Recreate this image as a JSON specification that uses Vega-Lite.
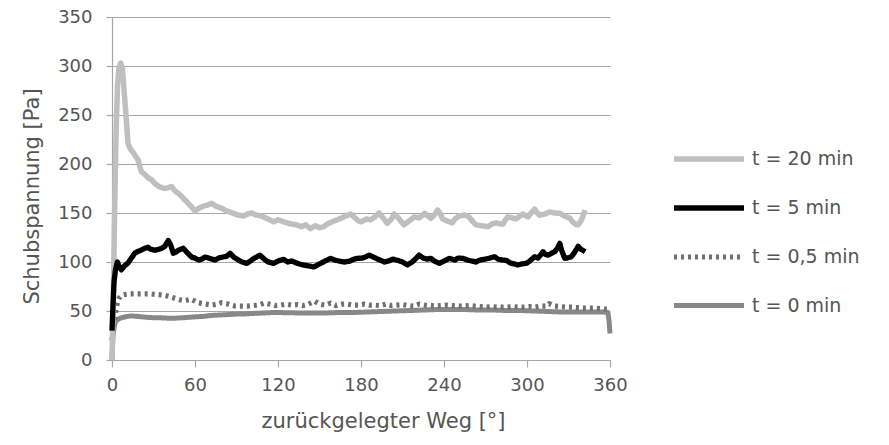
{
  "$schema": "https://vega.github.io/schema/vega-lite/v6.json",
  "width": 498,
  "height": 343,
  "autosize": {"type": "none"},
  "padding": {"left": 112, "top": 17, "right": 279, "bottom": 85},
  "background": "white",
  "config": {
    "font": "DejaVu Sans",
    "view": {"stroke": null},
    "axis": {"labelFont": "DejaVu Sans", "titleFont": "DejaVu Sans", "labelColor": "#555555", "titleColor": "#555555", "titleFontWeight": "normal", "labelFontSize": 18, "titleFontSize": 21, "domainColor": "#a6a6a6", "tickColor": "#a6a6a6", "gridColor": "#a6a6a6", "gridWidth": 1.2, "domainWidth": 1.2, "tickWidth": 1.2, "labelFlush": false},
    "legend": {"labelFont": "DejaVu Sans", "labelColor": "#555555", "labelFontSize": 19}
  },
  "datasets": {
    "curves": [
      {"t": "t = 0 min", "deg": 0, "val": 0}, {"t": "t = 0 min", "deg": 0.7, "val": 24}, {"t": "t = 0 min", "deg": 1.5, "val": 33}, {"t": "t = 0 min", "deg": 2.4, "val": 39}, {"t": "t = 0 min", "deg": 4, "val": 41}, {"t": "t = 0 min", "deg": 5.6, "val": 42.5}, {"t": "t = 0 min", "deg": 8, "val": 43.5}, {"t": "t = 0 min", "deg": 11, "val": 44.5}, {"t": "t = 0 min", "deg": 14, "val": 45}, {"t": "t = 0 min", "deg": 18, "val": 44.5}, {"t": "t = 0 min", "deg": 22, "val": 44}, {"t": "t = 0 min", "deg": 26, "val": 43.5}, {"t": "t = 0 min", "deg": 31, "val": 43}, {"t": "t = 0 min", "deg": 36, "val": 43}, {"t": "t = 0 min", "deg": 43, "val": 42.5}, {"t": "t = 0 min", "deg": 50, "val": 43}, {"t": "t = 0 min", "deg": 55, "val": 43.5}, {"t": "t = 0 min", "deg": 60, "val": 44}, {"t": "t = 0 min", "deg": 66, "val": 44.5}, {"t": "t = 0 min", "deg": 72, "val": 45.5}, {"t": "t = 0 min", "deg": 79, "val": 46}, {"t": "t = 0 min", "deg": 86, "val": 46.5}, {"t": "t = 0 min", "deg": 92, "val": 47}, {"t": "t = 0 min", "deg": 96, "val": 47}, {"t": "t = 0 min", "deg": 102, "val": 47.5}, {"t": "t = 0 min", "deg": 110, "val": 48}, {"t": "t = 0 min", "deg": 117, "val": 48.5}, {"t": "t = 0 min", "deg": 125, "val": 48.3}, {"t": "t = 0 min", "deg": 135, "val": 48}, {"t": "t = 0 min", "deg": 145, "val": 48}, {"t": "t = 0 min", "deg": 155, "val": 48}, {"t": "t = 0 min", "deg": 165, "val": 48.5}, {"t": "t = 0 min", "deg": 175, "val": 48.5}, {"t": "t = 0 min", "deg": 185, "val": 49}, {"t": "t = 0 min", "deg": 195, "val": 49.5}, {"t": "t = 0 min", "deg": 205, "val": 50}, {"t": "t = 0 min", "deg": 215, "val": 50.5}, {"t": "t = 0 min", "deg": 225, "val": 51}, {"t": "t = 0 min", "deg": 235, "val": 51.5}, {"t": "t = 0 min", "deg": 245, "val": 51.5}, {"t": "t = 0 min", "deg": 255, "val": 51.5}, {"t": "t = 0 min", "deg": 265, "val": 51}, {"t": "t = 0 min", "deg": 275, "val": 51}, {"t": "t = 0 min", "deg": 285, "val": 50.5}, {"t": "t = 0 min", "deg": 295, "val": 50.5}, {"t": "t = 0 min", "deg": 305, "val": 50}, {"t": "t = 0 min", "deg": 315, "val": 49.5}, {"t": "t = 0 min", "deg": 325, "val": 49}, {"t": "t = 0 min", "deg": 335, "val": 49}, {"t": "t = 0 min", "deg": 345, "val": 49}, {"t": "t = 0 min", "deg": 355, "val": 49}, {"t": "t = 0 min", "deg": 358.5, "val": 48.5}, {"t": "t = 0 min", "deg": 359.3, "val": 40}, {"t": "t = 0 min", "deg": 360, "val": 27},

      {"t": "t = 0,5 min", "deg": 0, "val": 20}, {"t": "t = 0,5 min", "deg": 1, "val": 35}, {"t": "t = 0,5 min", "deg": 2, "val": 44}, {"t": "t = 0,5 min", "deg": 3, "val": 52}, {"t": "t = 0,5 min", "deg": 4, "val": 59.5}, {"t": "t = 0,5 min", "deg": 5, "val": 63}, {"t": "t = 0,5 min", "deg": 7, "val": 66}, {"t": "t = 0,5 min", "deg": 10, "val": 67}, {"t": "t = 0,5 min", "deg": 13, "val": 67.5}, {"t": "t = 0,5 min", "deg": 16, "val": 67.5}, {"t": "t = 0,5 min", "deg": 20, "val": 67.5}, {"t": "t = 0,5 min", "deg": 24, "val": 67.5}, {"t": "t = 0,5 min", "deg": 28, "val": 67.5}, {"t": "t = 0,5 min", "deg": 31, "val": 67}, {"t": "t = 0,5 min", "deg": 35, "val": 66.5}, {"t": "t = 0,5 min", "deg": 38, "val": 66}, {"t": "t = 0,5 min", "deg": 42, "val": 64.5}, {"t": "t = 0,5 min", "deg": 45.5, "val": 63}, {"t": "t = 0,5 min", "deg": 49, "val": 61.5}, {"t": "t = 0,5 min", "deg": 52.8, "val": 60.5}, {"t": "t = 0,5 min", "deg": 57, "val": 62}, {"t": "t = 0,5 min", "deg": 60, "val": 60}, {"t": "t = 0,5 min", "deg": 62, "val": 58.5}, {"t": "t = 0,5 min", "deg": 65, "val": 57.8}, {"t": "t = 0,5 min", "deg": 68, "val": 57}, {"t": "t = 0,5 min", "deg": 72, "val": 56}, {"t": "t = 0,5 min", "deg": 76, "val": 57}, {"t": "t = 0,5 min", "deg": 79, "val": 58.5}, {"t": "t = 0,5 min", "deg": 83, "val": 57.5}, {"t": "t = 0,5 min", "deg": 86, "val": 56}, {"t": "t = 0,5 min", "deg": 89, "val": 55}, {"t": "t = 0,5 min", "deg": 93, "val": 55}, {"t": "t = 0,5 min", "deg": 98, "val": 55}, {"t": "t = 0,5 min", "deg": 102, "val": 55.5}, {"t": "t = 0,5 min", "deg": 106, "val": 56}, {"t": "t = 0,5 min", "deg": 110, "val": 58}, {"t": "t = 0,5 min", "deg": 114, "val": 57}, {"t": "t = 0,5 min", "deg": 118, "val": 55.5}, {"t": "t = 0,5 min", "deg": 122, "val": 56}, {"t": "t = 0,5 min", "deg": 126, "val": 57}, {"t": "t = 0,5 min", "deg": 130, "val": 56}, {"t": "t = 0,5 min", "deg": 134, "val": 56.5}, {"t": "t = 0,5 min", "deg": 138, "val": 55.5}, {"t": "t = 0,5 min", "deg": 142, "val": 57}, {"t": "t = 0,5 min", "deg": 146.5, "val": 60}, {"t": "t = 0,5 min", "deg": 150, "val": 57}, {"t": "t = 0,5 min", "deg": 154, "val": 56}, {"t": "t = 0,5 min", "deg": 158, "val": 58}, {"t": "t = 0,5 min", "deg": 162, "val": 55.5}, {"t": "t = 0,5 min", "deg": 166, "val": 57}, {"t": "t = 0,5 min", "deg": 170, "val": 57}, {"t": "t = 0,5 min", "deg": 174, "val": 56}, {"t": "t = 0,5 min", "deg": 178, "val": 56}, {"t": "t = 0,5 min", "deg": 182, "val": 57}, {"t": "t = 0,5 min", "deg": 186, "val": 56}, {"t": "t = 0,5 min", "deg": 190, "val": 56}, {"t": "t = 0,5 min", "deg": 194, "val": 55.5}, {"t": "t = 0,5 min", "deg": 198, "val": 57}, {"t": "t = 0,5 min", "deg": 202, "val": 55.5}, {"t": "t = 0,5 min", "deg": 206, "val": 56}, {"t": "t = 0,5 min", "deg": 210, "val": 56.5}, {"t": "t = 0,5 min", "deg": 214, "val": 55.5}, {"t": "t = 0,5 min", "deg": 218, "val": 55}, {"t": "t = 0,5 min", "deg": 222, "val": 57}, {"t": "t = 0,5 min", "deg": 226, "val": 56}, {"t": "t = 0,5 min", "deg": 230, "val": 55.5}, {"t": "t = 0,5 min", "deg": 234, "val": 55}, {"t": "t = 0,5 min", "deg": 238, "val": 55.5}, {"t": "t = 0,5 min", "deg": 242, "val": 56}, {"t": "t = 0,5 min", "deg": 246, "val": 55.5}, {"t": "t = 0,5 min", "deg": 250, "val": 55}, {"t": "t = 0,5 min", "deg": 254, "val": 55}, {"t": "t = 0,5 min", "deg": 258, "val": 55.5}, {"t": "t = 0,5 min", "deg": 262, "val": 55}, {"t": "t = 0,5 min", "deg": 266, "val": 54.5}, {"t": "t = 0,5 min", "deg": 270, "val": 54}, {"t": "t = 0,5 min", "deg": 274, "val": 54.5}, {"t": "t = 0,5 min", "deg": 278, "val": 54}, {"t": "t = 0,5 min", "deg": 282, "val": 54}, {"t": "t = 0,5 min", "deg": 286, "val": 54}, {"t": "t = 0,5 min", "deg": 290, "val": 54.5}, {"t": "t = 0,5 min", "deg": 294, "val": 54}, {"t": "t = 0,5 min", "deg": 298, "val": 54}, {"t": "t = 0,5 min", "deg": 302, "val": 54.5}, {"t": "t = 0,5 min", "deg": 306, "val": 54}, {"t": "t = 0,5 min", "deg": 310, "val": 55}, {"t": "t = 0,5 min", "deg": 314, "val": 55}, {"t": "t = 0,5 min", "deg": 316, "val": 57.5}, {"t": "t = 0,5 min", "deg": 320, "val": 55}, {"t": "t = 0,5 min", "deg": 324, "val": 54.5}, {"t": "t = 0,5 min", "deg": 328, "val": 54}, {"t": "t = 0,5 min", "deg": 332, "val": 54}, {"t": "t = 0,5 min", "deg": 336, "val": 53.5}, {"t": "t = 0,5 min", "deg": 340, "val": 53}, {"t": "t = 0,5 min", "deg": 344, "val": 53}, {"t": "t = 0,5 min", "deg": 348, "val": 53}, {"t": "t = 0,5 min", "deg": 352, "val": 52.5}, {"t": "t = 0,5 min", "deg": 356, "val": 52}, {"t": "t = 0,5 min", "deg": 358.8, "val": 52},

      {"t": "t = 20 min", "deg": 0, "val": 0}, {"t": "t = 20 min", "deg": 1, "val": 70}, {"t": "t = 20 min", "deg": 2, "val": 160}, {"t": "t = 20 min", "deg": 3, "val": 235}, {"t": "t = 20 min", "deg": 4, "val": 280}, {"t": "t = 20 min", "deg": 5, "val": 298}, {"t": "t = 20 min", "deg": 6.3, "val": 303}, {"t": "t = 20 min", "deg": 7.5, "val": 298}, {"t": "t = 20 min", "deg": 9, "val": 270}, {"t": "t = 20 min", "deg": 9.7, "val": 258}, {"t": "t = 20 min", "deg": 11, "val": 232}, {"t": "t = 20 min", "deg": 11.6, "val": 221}, {"t": "t = 20 min", "deg": 13, "val": 216}, {"t": "t = 20 min", "deg": 15.2, "val": 212}, {"t": "t = 20 min", "deg": 17, "val": 208}, {"t": "t = 20 min", "deg": 18.9, "val": 204}, {"t": "t = 20 min", "deg": 20, "val": 198}, {"t": "t = 20 min", "deg": 21.3, "val": 192}, {"t": "t = 20 min", "deg": 24, "val": 189}, {"t": "t = 20 min", "deg": 26, "val": 186}, {"t": "t = 20 min", "deg": 28.6, "val": 184}, {"t": "t = 20 min", "deg": 31, "val": 180}, {"t": "t = 20 min", "deg": 34, "val": 177}, {"t": "t = 20 min", "deg": 36, "val": 176}, {"t": "t = 20 min", "deg": 38.2, "val": 175}, {"t": "t = 20 min", "deg": 41, "val": 176}, {"t": "t = 20 min", "deg": 43, "val": 177}, {"t": "t = 20 min", "deg": 46, "val": 172}, {"t": "t = 20 min", "deg": 48, "val": 170}, {"t": "t = 20 min", "deg": 50.3, "val": 167}, {"t": "t = 20 min", "deg": 53, "val": 163}, {"t": "t = 20 min", "deg": 55, "val": 160}, {"t": "t = 20 min", "deg": 57, "val": 157}, {"t": "t = 20 min", "deg": 60, "val": 152}, {"t": "t = 20 min", "deg": 63, "val": 155}, {"t": "t = 20 min", "deg": 66, "val": 157}, {"t": "t = 20 min", "deg": 69, "val": 158}, {"t": "t = 20 min", "deg": 72, "val": 160}, {"t": "t = 20 min", "deg": 75, "val": 157}, {"t": "t = 20 min", "deg": 79, "val": 155}, {"t": "t = 20 min", "deg": 83, "val": 152}, {"t": "t = 20 min", "deg": 87, "val": 150}, {"t": "t = 20 min", "deg": 91, "val": 148}, {"t": "t = 20 min", "deg": 95, "val": 147}, {"t": "t = 20 min", "deg": 98, "val": 149}, {"t": "t = 20 min", "deg": 101, "val": 150}, {"t": "t = 20 min", "deg": 104, "val": 148}, {"t": "t = 20 min", "deg": 108, "val": 147}, {"t": "t = 20 min", "deg": 111, "val": 145}, {"t": "t = 20 min", "deg": 114, "val": 143}, {"t": "t = 20 min", "deg": 117, "val": 141}, {"t": "t = 20 min", "deg": 120, "val": 143}, {"t": "t = 20 min", "deg": 124, "val": 141}, {"t": "t = 20 min", "deg": 129, "val": 139}, {"t": "t = 20 min", "deg": 133, "val": 138}, {"t": "t = 20 min", "deg": 137, "val": 136}, {"t": "t = 20 min", "deg": 140, "val": 138}, {"t": "t = 20 min", "deg": 143.5, "val": 134}, {"t": "t = 20 min", "deg": 147, "val": 137}, {"t": "t = 20 min", "deg": 150, "val": 135}, {"t": "t = 20 min", "deg": 153, "val": 136}, {"t": "t = 20 min", "deg": 156, "val": 139}, {"t": "t = 20 min", "deg": 159, "val": 141}, {"t": "t = 20 min", "deg": 162.8, "val": 143}, {"t": "t = 20 min", "deg": 166, "val": 145}, {"t": "t = 20 min", "deg": 169, "val": 147}, {"t": "t = 20 min", "deg": 172.5, "val": 149}, {"t": "t = 20 min", "deg": 175, "val": 146}, {"t": "t = 20 min", "deg": 178, "val": 142}, {"t": "t = 20 min", "deg": 180, "val": 141}, {"t": "t = 20 min", "deg": 184, "val": 144}, {"t": "t = 20 min", "deg": 187, "val": 143}, {"t": "t = 20 min", "deg": 190, "val": 146}, {"t": "t = 20 min", "deg": 193, "val": 150}, {"t": "t = 20 min", "deg": 196, "val": 145}, {"t": "t = 20 min", "deg": 199, "val": 139.5}, {"t": "t = 20 min", "deg": 202, "val": 144}, {"t": "t = 20 min", "deg": 204, "val": 149}, {"t": "t = 20 min", "deg": 207, "val": 145}, {"t": "t = 20 min", "deg": 211, "val": 138}, {"t": "t = 20 min", "deg": 214, "val": 141}, {"t": "t = 20 min", "deg": 218.5, "val": 146}, {"t": "t = 20 min", "deg": 222, "val": 145}, {"t": "t = 20 min", "deg": 226, "val": 149.7}, {"t": "t = 20 min", "deg": 230.5, "val": 144.6}, {"t": "t = 20 min", "deg": 233, "val": 148}, {"t": "t = 20 min", "deg": 235.4, "val": 153}, {"t": "t = 20 min", "deg": 237, "val": 150}, {"t": "t = 20 min", "deg": 239, "val": 144}, {"t": "t = 20 min", "deg": 242, "val": 142}, {"t": "t = 20 min", "deg": 246, "val": 140}, {"t": "t = 20 min", "deg": 248, "val": 144}, {"t": "t = 20 min", "deg": 251, "val": 147}, {"t": "t = 20 min", "deg": 255, "val": 148}, {"t": "t = 20 min", "deg": 258, "val": 146}, {"t": "t = 20 min", "deg": 261, "val": 141}, {"t": "t = 20 min", "deg": 263, "val": 138}, {"t": "t = 20 min", "deg": 267, "val": 137}, {"t": "t = 20 min", "deg": 271.7, "val": 136}, {"t": "t = 20 min", "deg": 275, "val": 139}, {"t": "t = 20 min", "deg": 277.7, "val": 140}, {"t": "t = 20 min", "deg": 280, "val": 139}, {"t": "t = 20 min", "deg": 282.6, "val": 138.5}, {"t": "t = 20 min", "deg": 284, "val": 142}, {"t": "t = 20 min", "deg": 286, "val": 146}, {"t": "t = 20 min", "deg": 289, "val": 145}, {"t": "t = 20 min", "deg": 292, "val": 144}, {"t": "t = 20 min", "deg": 295, "val": 147}, {"t": "t = 20 min", "deg": 297, "val": 149}, {"t": "t = 20 min", "deg": 300.7, "val": 146}, {"t": "t = 20 min", "deg": 303, "val": 150}, {"t": "t = 20 min", "deg": 305.5, "val": 154}, {"t": "t = 20 min", "deg": 307, "val": 151}, {"t": "t = 20 min", "deg": 309, "val": 147.7}, {"t": "t = 20 min", "deg": 313, "val": 149}, {"t": "t = 20 min", "deg": 316.4, "val": 151}, {"t": "t = 20 min", "deg": 320, "val": 150}, {"t": "t = 20 min", "deg": 323.7, "val": 149.7}, {"t": "t = 20 min", "deg": 327, "val": 147}, {"t": "t = 20 min", "deg": 331, "val": 144.6}, {"t": "t = 20 min", "deg": 333, "val": 141}, {"t": "t = 20 min", "deg": 335.8, "val": 138}, {"t": "t = 20 min", "deg": 337, "val": 138}, {"t": "t = 20 min", "deg": 339.4, "val": 143}, {"t": "t = 20 min", "deg": 341, "val": 149}, {"t": "t = 20 min", "deg": 342, "val": 153},

      {"t": "t = 5 min", "deg": 0, "val": 30}, {"t": "t = 5 min", "deg": 0.7, "val": 55}, {"t": "t = 5 min", "deg": 1.5, "val": 80}, {"t": "t = 5 min", "deg": 2.5, "val": 92}, {"t": "t = 5 min", "deg": 3.9, "val": 100}, {"t": "t = 5 min", "deg": 5, "val": 96}, {"t": "t = 5 min", "deg": 6.8, "val": 92}, {"t": "t = 5 min", "deg": 9, "val": 96}, {"t": "t = 5 min", "deg": 11.6, "val": 99}, {"t": "t = 5 min", "deg": 14, "val": 104}, {"t": "t = 5 min", "deg": 16.5, "val": 109}, {"t": "t = 5 min", "deg": 19, "val": 111}, {"t": "t = 5 min", "deg": 21, "val": 112}, {"t": "t = 5 min", "deg": 23.7, "val": 114}, {"t": "t = 5 min", "deg": 26, "val": 115}, {"t": "t = 5 min", "deg": 28, "val": 113}, {"t": "t = 5 min", "deg": 31, "val": 112}, {"t": "t = 5 min", "deg": 34, "val": 113}, {"t": "t = 5 min", "deg": 36, "val": 114}, {"t": "t = 5 min", "deg": 38.2, "val": 116}, {"t": "t = 5 min", "deg": 40.7, "val": 122}, {"t": "t = 5 min", "deg": 42.5, "val": 117}, {"t": "t = 5 min", "deg": 44.3, "val": 109}, {"t": "t = 5 min", "deg": 46, "val": 110}, {"t": "t = 5 min", "deg": 48, "val": 112}, {"t": "t = 5 min", "deg": 51.5, "val": 114}, {"t": "t = 5 min", "deg": 54, "val": 110}, {"t": "t = 5 min", "deg": 57.6, "val": 105}, {"t": "t = 5 min", "deg": 60, "val": 104}, {"t": "t = 5 min", "deg": 62.5, "val": 102}, {"t": "t = 5 min", "deg": 65, "val": 103}, {"t": "t = 5 min", "deg": 67.3, "val": 105}, {"t": "t = 5 min", "deg": 70, "val": 104}, {"t": "t = 5 min", "deg": 72, "val": 103}, {"t": "t = 5 min", "deg": 74.6, "val": 102}, {"t": "t = 5 min", "deg": 77, "val": 104}, {"t": "t = 5 min", "deg": 80, "val": 105}, {"t": "t = 5 min", "deg": 83, "val": 106}, {"t": "t = 5 min", "deg": 85.4, "val": 108.8}, {"t": "t = 5 min", "deg": 88, "val": 105}, {"t": "t = 5 min", "deg": 91.4, "val": 102}, {"t": "t = 5 min", "deg": 94, "val": 100}, {"t": "t = 5 min", "deg": 97.5, "val": 98.6}, {"t": "t = 5 min", "deg": 100, "val": 101}, {"t": "t = 5 min", "deg": 103, "val": 104}, {"t": "t = 5 min", "deg": 107, "val": 107}, {"t": "t = 5 min", "deg": 110, "val": 103}, {"t": "t = 5 min", "deg": 113, "val": 100}, {"t": "t = 5 min", "deg": 116.8, "val": 98.6}, {"t": "t = 5 min", "deg": 120, "val": 101}, {"t": "t = 5 min", "deg": 124, "val": 102.7}, {"t": "t = 5 min", "deg": 127, "val": 100}, {"t": "t = 5 min", "deg": 130, "val": 101}, {"t": "t = 5 min", "deg": 134, "val": 98.6}, {"t": "t = 5 min", "deg": 138, "val": 97}, {"t": "t = 5 min", "deg": 142, "val": 96}, {"t": "t = 5 min", "deg": 146, "val": 95}, {"t": "t = 5 min", "deg": 150, "val": 98}, {"t": "t = 5 min", "deg": 154, "val": 101}, {"t": "t = 5 min", "deg": 158, "val": 103.7}, {"t": "t = 5 min", "deg": 161, "val": 102}, {"t": "t = 5 min", "deg": 164, "val": 101}, {"t": "t = 5 min", "deg": 168, "val": 100}, {"t": "t = 5 min", "deg": 172, "val": 101}, {"t": "t = 5 min", "deg": 175, "val": 103}, {"t": "t = 5 min", "deg": 177.3, "val": 103.7}, {"t": "t = 5 min", "deg": 181, "val": 104}, {"t": "t = 5 min", "deg": 183, "val": 105}, {"t": "t = 5 min", "deg": 186, "val": 107}, {"t": "t = 5 min", "deg": 189, "val": 105}, {"t": "t = 5 min", "deg": 192, "val": 103}, {"t": "t = 5 min", "deg": 197, "val": 100}, {"t": "t = 5 min", "deg": 200, "val": 101}, {"t": "t = 5 min", "deg": 203, "val": 103}, {"t": "t = 5 min", "deg": 206.5, "val": 101.7}, {"t": "t = 5 min", "deg": 210, "val": 100}, {"t": "t = 5 min", "deg": 213.6, "val": 97}, {"t": "t = 5 min", "deg": 217, "val": 100}, {"t": "t = 5 min", "deg": 220, "val": 104}, {"t": "t = 5 min", "deg": 222, "val": 107}, {"t": "t = 5 min", "deg": 225, "val": 104}, {"t": "t = 5 min", "deg": 228, "val": 103}, {"t": "t = 5 min", "deg": 230.5, "val": 103.7}, {"t": "t = 5 min", "deg": 233, "val": 101}, {"t": "t = 5 min", "deg": 236.7, "val": 98.6}, {"t": "t = 5 min", "deg": 240, "val": 101}, {"t": "t = 5 min", "deg": 244, "val": 103.7}, {"t": "t = 5 min", "deg": 248, "val": 102}, {"t": "t = 5 min", "deg": 250, "val": 104}, {"t": "t = 5 min", "deg": 253.7, "val": 103.7}, {"t": "t = 5 min", "deg": 257, "val": 102}, {"t": "t = 5 min", "deg": 260, "val": 101}, {"t": "t = 5 min", "deg": 263, "val": 100}, {"t": "t = 5 min", "deg": 266, "val": 102}, {"t": "t = 5 min", "deg": 270, "val": 103}, {"t": "t = 5 min", "deg": 273, "val": 104}, {"t": "t = 5 min", "deg": 276.5, "val": 105.4}, {"t": "t = 5 min", "deg": 279, "val": 103}, {"t": "t = 5 min", "deg": 282, "val": 102}, {"t": "t = 5 min", "deg": 285, "val": 101.7}, {"t": "t = 5 min", "deg": 288, "val": 99}, {"t": "t = 5 min", "deg": 291, "val": 98}, {"t": "t = 5 min", "deg": 293.5, "val": 97}, {"t": "t = 5 min", "deg": 296, "val": 98}, {"t": "t = 5 min", "deg": 299.5, "val": 98.6}, {"t": "t = 5 min", "deg": 302, "val": 101}, {"t": "t = 5 min", "deg": 305.5, "val": 105.4}, {"t": "t = 5 min", "deg": 308, "val": 104}, {"t": "t = 5 min", "deg": 311.6, "val": 110.5}, {"t": "t = 5 min", "deg": 313, "val": 108}, {"t": "t = 5 min", "deg": 315.2, "val": 107}, {"t": "t = 5 min", "deg": 318, "val": 109}, {"t": "t = 5 min", "deg": 320, "val": 110.5}, {"t": "t = 5 min", "deg": 322, "val": 114}, {"t": "t = 5 min", "deg": 323.7, "val": 119}, {"t": "t = 5 min", "deg": 325, "val": 112}, {"t": "t = 5 min", "deg": 327.3, "val": 103.7}, {"t": "t = 5 min", "deg": 329, "val": 104}, {"t": "t = 5 min", "deg": 332, "val": 105.4}, {"t": "t = 5 min", "deg": 334, "val": 109}, {"t": "t = 5 min", "deg": 337, "val": 116}, {"t": "t = 5 min", "deg": 339, "val": 113}, {"t": "t = 5 min", "deg": 342, "val": 110.5}
    ]
  },
  "data": {"name": "curves"},
  "mark": {"type": "line", "strokeJoin": "round", "interpolate": "linear"},
  "encoding": {
    "x": {"field": "deg", "type": "quantitative", "scale": {"domain": [0, 360], "nice": false}, "axis": {"values": [0, 60, 120, 180, 240, 300, 360], "grid": false, "title": "zurückgelegter Weg [°]", "tickSize": 7, "labelPadding": 9, "titlePadding": 16, "titleX": 271}},
    "y": {"field": "val", "type": "quantitative", "scale": {"domain": [0, 350], "nice": false}, "axis": {"values": [0, 50, 100, 150, 200, 250, 300, 350], "grid": true, "title": "Schubspannung [Pa]", "tickSize": 6, "labelPadding": 14, "titlePadding": 15, "titleY": 179}},
    "color": {"field": "t", "type": "nominal", "scale": {"domain": ["t = 20 min", "t = 5 min", "t = 0,5 min", "t = 0 min"], "range": ["#bfbfbf", "#000000", "#6f6f6f", "#888888"]}, "legend": {"title": null, "orient": "none", "legendX": 559, "legendY": 104, "symbolType": "stroke", "symbolSize": 4900, "labelOffset": 5, "rowPadding": -4, "padding": 0}},
    "strokeWidth": {"field": "t", "type": "nominal", "scale": {"domain": ["t = 20 min", "t = 5 min", "t = 0,5 min", "t = 0 min"], "range": [5.5, 5, 3.5, 4.5]}, "legend": {"title": null, "orient": "none", "legendX": 559, "legendY": 104, "symbolType": "stroke", "symbolSize": 4900, "labelOffset": 5, "rowPadding": -4, "padding": 0}},
    "strokeDash": {"field": "t", "type": "nominal", "scale": {"domain": ["t = 20 min", "t = 5 min", "t = 0,5 min", "t = 0 min"], "range": [[1, 0], [1, 0], [3, 4], [1, 0]]}, "legend": {"title": null, "orient": "none", "legendX": 559, "legendY": 104, "symbolType": "stroke", "symbolSize": 4900, "labelOffset": 5, "rowPadding": -4, "padding": 0}},
    "order": {"field": "deg", "type": "quantitative"}
  }
}
